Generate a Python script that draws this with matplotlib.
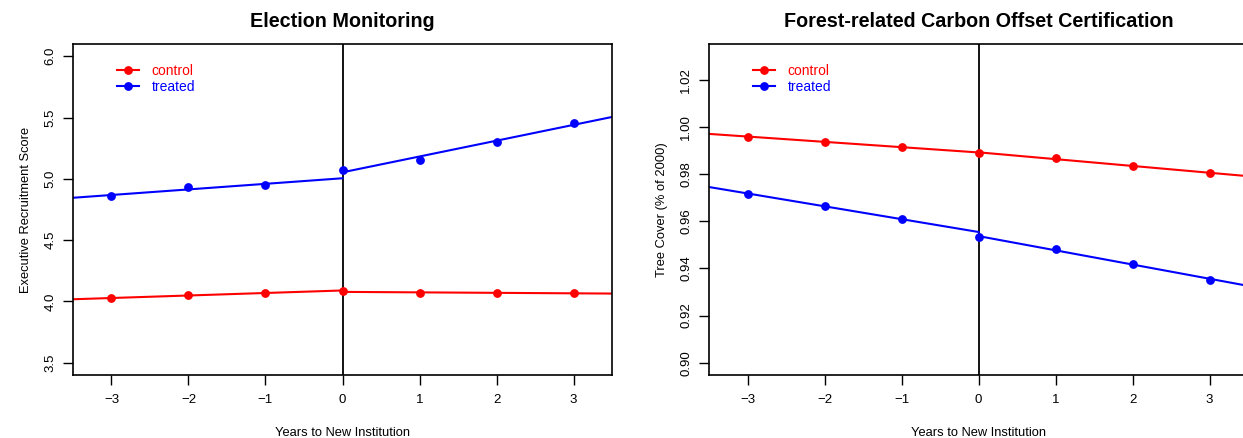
import numpy as np
import matplotlib
matplotlib.use('Agg')
import matplotlib.pyplot as plt

plt.rcParams['font.family'] = ['Liberation Sans', 'DejaVu Sans']

years = [-3, -2, -1, 0, 1, 2, 3]

# Election Monitoring
em_control = [4.028, 4.049, 4.069, 4.082, 4.069, 4.069, 4.069]
em_treated = [4.857, 4.937, 4.948, 5.076, 5.156, 5.297, 5.459]

# Forest-related Carbon Offset Certification
fc_control = [0.9959, 0.9938, 0.9914, 0.9890, 0.9867, 0.9836, 0.9804]
fc_treated = [0.9717, 0.9666, 0.9608, 0.9532, 0.9483, 0.9420, 0.9352]

panels = [
    ('Election Monitoring', 'Executive Recruitment Score', em_control, em_treated,
     (3.4, 6.1), [3.5, 4.0, 4.5, 5.0, 5.5, 6.0], '%.1f'),
    ('Forest-related Carbon Offset Certification', 'Tree Cover (% of 2000)', fc_control, fc_treated,
     (0.8948, 1.0352), [0.90, 0.92, 0.94, 0.96, 0.98, 1.00, 1.02], '%.2f'),
]

positions = [[0.0587, 0.1438, 0.4337, 0.7557],
             [0.5704, 0.1438, 0.4337, 0.7557]]

fig = plt.figure(figsize=(12.43, 4.38), dpi=100)

x = np.array(years)
pre = x < 0
post = x >= 0

for pos, (title, ylabel, ctrl, trt, ylim, yticks, fmt) in zip(positions, panels):
    ax = fig.add_axes(pos)
    for vals, col, lab in [(ctrl, 'red', 'control'), (trt, 'blue', 'treated')]:
        y = np.array(vals)
        ax.plot(x, y, 'o', color=col, markersize=5.3, zorder=3)
        # fitted trends before and after adoption
        b1 = np.polyfit(x[pre], y[pre], 1)
        xs = np.array([-3.5, 0])
        ax.plot(xs, np.polyval(b1, xs), color=col, lw=1.5, zorder=2)
        b2 = np.polyfit(x[post], y[post], 1)
        xs = np.array([0, 3.5])
        ax.plot(xs, np.polyval(b2, xs), color=col, lw=1.5, zorder=2)
        ax.plot([], [], '-o', color=col, markersize=5.3, lw=1.5, label=lab)
    ax.axvline(0, color='black', lw=1.3, zorder=1)
    ax.set_xlim(-3.5, 3.5)
    ax.set_ylim(*ylim)
    ax.set_xticks(years)
    ax.set_xticklabels(['\u22123', '\u22122', '\u22121', '0', '1', '2', '3'])
    ax.set_yticks(yticks)
    ax.set_yticklabels([fmt % v for v in yticks], rotation=90, va='center')
    ax.tick_params(length=7, width=1, labelsize=9.5, pad=5)
    ax.tick_params(axis='x', pad=7)
    for s in ax.spines.values():
        s.set_linewidth(1.2)
    ax.set_title(title, fontsize=14.2, fontweight='bold', pad=12)
    ax.set_xlabel('Years to New Institution', fontsize=9.3, labelpad=15)
    ax.set_ylabel(ylabel, fontsize=9.3, labelpad=9)
    ax.legend(loc='upper left', bbox_to_anchor=(0.058, 0.978), frameon=False,
              fontsize=10, handlelength=1.6, labelspacing=0.15, handletextpad=0.9,
              labelcolor=['red', 'blue'])

fig.savefig('out.png', dpi=100)
